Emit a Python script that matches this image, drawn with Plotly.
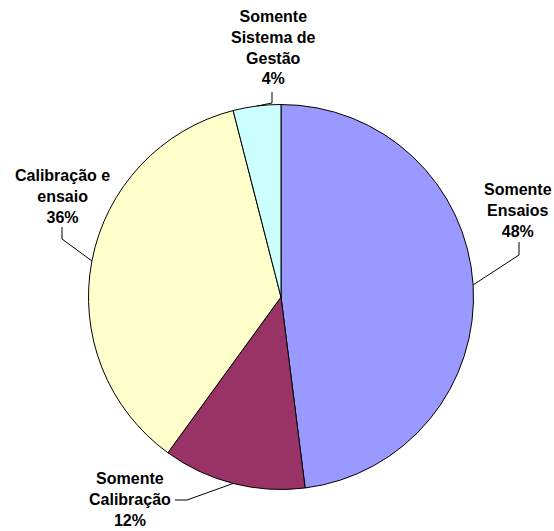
import math
import plotly.graph_objects as go

# ---- data -------------------------------------------------------------
categories = [
    "Somente Ensaios",
    "Somente Calibração",
    "Calibração e ensaio",
    "Somente Sistema de Gestão",
]
label_lines = [
    ["Somente", "Ensaios"],
    ["Somente", "Calibração"],
    ["Calibração e", "ensaio"],
    ["Somente", "Sistema de", "Gestão"],
]
values = [48, 12, 36, 4]

# ---- style / layout ---------------------------------------------------
colors = ["#9999FF", "#993366", "#FFFFCC", "#CCFFFF"]
W, H = 554, 531
CX, CY, R = 281, 297, 192.5          # pie centre and radius, pixels
FONT = dict(family="Liberation Sans, Arial, sans-serif", size=16, color="black")

# label block centre, leader elbow, leader end near the text (pixels)
label_layout = [
    dict(text=(518, 211), elbow=(519, 255), end=(519, 242)),
    dict(text=(130, 500), elbow=(187, 500), end=(175, 500)),
    dict(text=(62, 196), elbow=(62, 239), end=(62, 227)),
    dict(text=(273, 47), elbow=(272, 103), end=(272, 92)),
]


def px(x):
    return x / W


def py(y):
    return 1 - y / H


total = sum(values)

fig = go.Figure(
    go.Pie(
        labels=categories,
        values=values,
        sort=False,
        direction="clockwise",
        rotation=0,
        textinfo="none",
        hoverinfo="label+percent",
        marker=dict(colors=colors, line=dict(color="black", width=1)),
        domain=dict(x=[px(CX - R), px(CX + R)], y=[py(CY + R), py(CY - R)]),
        showlegend=False,
    )
)

annotations = []
shapes = []
cum = 0.0
for lines, v, lay in zip(label_lines, values, label_layout):
    frac = v / total
    mid = (cum + frac / 2) * 2 * math.pi      # clockwise from 12 o'clock
    cum += frac
    ex = CX + R * math.sin(mid)
    ey = CY - R * math.cos(mid)

    text = "<br>".join(f"<b>{t}</b>" for t in lines + [f"{frac * 100:.0f}%"])
    tx, ty = lay["text"]
    annotations.append(
        dict(
            x=px(tx), y=py(ty), xref="paper", yref="paper",
            text=text, showarrow=False, font=FONT,
            xanchor="center", yanchor="middle", align="center",
        )
    )
    (bx, by), (ux, uy) = lay["elbow"], lay["end"]
    for (x0, y0), (x1, y1) in [((ex, ey), (bx, by)), ((bx, by), (ux, uy))]:
        shapes.append(
            dict(
                type="line", xref="paper", yref="paper",
                x0=px(x0), y0=py(y0), x1=px(x1), y1=py(y1),
                line=dict(color="black", width=1),
            )
        )

fig.update_layout(
    width=W,
    height=H,
    margin=dict(l=0, r=0, t=0, b=0),
    paper_bgcolor="white",
    plot_bgcolor="white",
    annotations=annotations,
    shapes=shapes,
)

fig.write_html("out.html")
